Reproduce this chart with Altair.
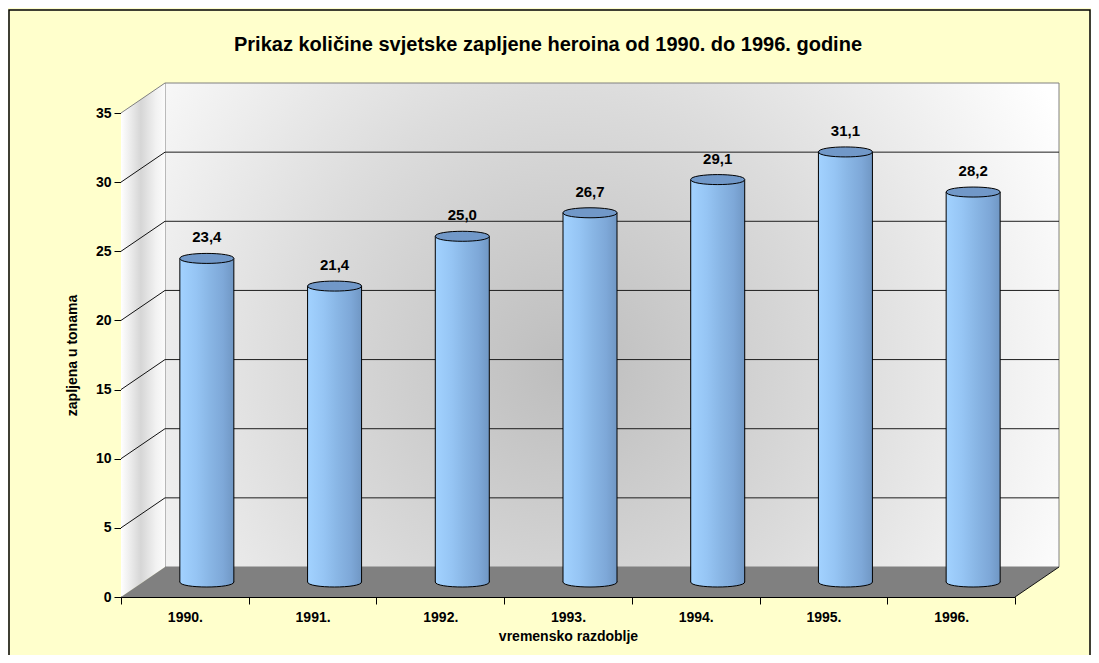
import altair as alt
import pandas as pd

# ---------------- data ----------------
years = ["1990.", "1991.", "1992.", "1993.", "1994.", "1995.", "1996."]
values = [23.4, 21.4, 25.0, 26.7, 29.1, 31.1, 28.2]
labels = ["23,4", "21,4", "25,0", "26,7", "29,1", "31,1", "28,2"]
y_ticks = [0, 5, 10, 15, 20, 25, 30, 35]

title_text = "Prikaz količine svjetske zapljene heroina od 1990. do 1996. godine"
x_title = "vremensko razdoblje"
y_title = "zapljena u tonama"

# ---------------- layout / style ----------------
W, H = 894, 484
YMAX = 35
N = len(years)
DX, DY = 44, 30          # 3D depth in pixels
HX, HY = DX / 2, DY / 2  # mid-depth for cylinders
BAR_W = 54
ux = DX / (W / N)        # depth converted to scale units
uy = DY / (H / YMAX)
FONT = "Liberation Sans"

bars_df = pd.DataFrame({"year": years, "value": values, "label": labels})

yscale = alt.Scale(domain=[0, YMAX], nice=False, zero=True)
yaxis = alt.Axis(
    values=y_ticks, title=y_title, grid=False, domainColor="black", tickColor="black",
    tickSize=7, labelFont=FONT, labelFontSize=14, labelFontWeight="bold", labelColor="black",
    labelPadding=3, titleFont=FONT, titleFontSize=14, titleFontWeight="bold",
    titleColor="black", titlePadding=16,
)
xq_scale = alt.Scale(domain=[0, N], nice=False, zero=False)


def Yq(field):
    return alt.Y(field, type="quantitative", scale=yscale, axis=yaxis)


def Xq(field):
    return alt.X(field, type="quantitative", scale=xq_scale, axis=None)


# ---------------- 3D box decorations ----------------
back_df = pd.DataFrame({"a": [ux], "b": [N + ux], "lo": [uy], "hi": [YMAX + uy]})
back_wall = alt.Chart(back_df).mark_rect(
    fill=alt.RadialGradient(
        gradient="radial", x1=0.45, y1=0.55, r1=0, x2=0.45, y2=0.55, r2=0.62,
        stops=[alt.GradientStop(offset=0, color="#bdbdbd"),
               alt.GradientStop(offset=0.5, color="#dcdcdc"),
               alt.GradientStop(offset=1, color="#ffffff")]),
    stroke="#808080", strokeWidth=1,
).encode(x=Xq("a"), x2="b", y=Yq("lo"), y2="hi")

left_df = pd.DataFrame({"u": [0, ux], "lo": [0, uy], "hi": [YMAX, YMAX + uy]})
left_wall = alt.Chart(left_df).mark_area(
    orient="vertical",
    fill=alt.LinearGradient(
        gradient="linear", x1=0, y1=0, x2=1, y2=0,
        stops=[alt.GradientStop(offset=0, color="#ffffff"),
               alt.GradientStop(offset=0.45, color="#d6d6d6"),
               alt.GradientStop(offset=0.8, color="#f2f2f2"),
               alt.GradientStop(offset=1, color="#fbfbfb")]),
).encode(x=Xq("u"), y=Yq("lo"), y2="hi")

floor_df = pd.DataFrame({"v": [0, uy], "a": [0, ux], "b": [N, N + ux]})
floor = alt.Chart(floor_df).mark_area(orient="horizontal", color="#808080", opacity=1).encode(
    y=Yq("v"), x=Xq("a"), x2="b"
)

grid_df = pd.DataFrame({"a": [ux] * 6, "b": [N + ux] * 6,
                        "yy": [v + uy for v in y_ticks[1:-1]]})
grid = alt.Chart(grid_df).mark_rule(color="#1e1e1e", strokeWidth=1).encode(
    x=Xq("a"), x2="b", y=Yq("yy")
)

diag_df = pd.DataFrame({
    "x1": [0.0] * 6 + [0.0, float(N)],
    "x2": [ux] * 6 + [ux, N + ux],
    "y1": [float(v) for v in y_ticks[1:-1]] + [float(YMAX), 0.0],
    "y2": [v + uy for v in y_ticks[1:-1]] + [YMAX + uy, uy],
    "c": ["k"] * 6 + ["g", "k"],
})
diag = alt.Chart(diag_df).mark_rule(strokeWidth=1).encode(
    x=Xq("x1"), x2="x2", y=Yq("y1"), y2="y2",
    color=alt.Color("c:N", scale=alt.Scale(domain=["k", "g"], range=["#111111", "#808080"]),
                    legend=None),
)

deco = alt.layer(back_wall, left_wall, floor, grid, diag)

# ---------------- cylinders ----------------
xband = alt.X(
    "year:N", sort=years, scale=alt.Scale(paddingInner=0, paddingOuter=0),
    axis=alt.Axis(
        title=x_title, labelAngle=0, tickBand="extent", tickSize=7, tickColor="black",
        domainColor="black", labelFont=FONT, labelFontSize=14, labelFontWeight="bold",
        labelColor="black", labelPadding=6, titleFont=FONT, titleFontSize=14,
        titleFontWeight="bold", titleColor="black", titlePadding=5,
    ),
)

ELLIPSE = "M -1 0 C -1 -0.247 1 -0.247 1 0 C 1 0.247 -1 0.247 -1 0 Z"
body_grad = alt.LinearGradient(
    gradient="linear", x1=0, y1=0, x2=1, y2=0,
    stops=[alt.GradientStop(offset=0, color="#a2d2ff"),
           alt.GradientStop(offset=0.3, color="#96c5f4"),
           alt.GradientStop(offset=0.55, color="#89b6e5"),
           alt.GradientStop(offset=0.8, color="#7ea8d8"),
           alt.GradientStop(offset=1, color="#7097c4")])

base = alt.Chart(bars_df)

bottom_ell = base.mark_point(
    shape=ELLIPSE, size=BAR_W ** 2, filled=True, fill=body_grad, stroke="black",
    strokeWidth=1, opacity=1, xOffset=HX, yOffset=-HY,
).encode(x=xband, y=alt.datum(0, type="quantitative", scale=yscale, axis=yaxis))

body = base.mark_bar(
    width=BAR_W, fill=body_grad, xOffset=HX, yOffset=-HY, y2Offset=-HY,
).encode(x=xband, y=Yq("value"), y2=alt.datum(0))

left_edge = base.mark_rule(color="black", strokeWidth=1, xOffset=HX - BAR_W / 2,
                           yOffset=-HY, y2Offset=-HY).encode(
    x=xband, y=Yq("value"), y2=alt.datum(0))
right_edge = base.mark_rule(color="black", strokeWidth=1, xOffset=HX + BAR_W / 2,
                            yOffset=-HY, y2Offset=-HY).encode(
    x=xband, y=Yq("value"), y2=alt.datum(0))

top_ell = base.mark_point(
    shape=ELLIPSE, size=BAR_W ** 2, filled=True, fill="#7198c8", stroke="black",
    strokeWidth=1, opacity=1, xOffset=HX, yOffset=-HY,
).encode(x=xband, y=Yq("value"))

value_text = base.mark_text(
    font=FONT, fontSize=15, fontWeight="bold", color="black",
    xOffset=HX, yOffset=-HY - 21, baseline="middle",
).encode(x=xband, y=Yq("value"), text="label:N")

bars = alt.layer(bottom_ell, body, left_edge, right_edge, top_ell, value_text)

# ---------------- frame ----------------
frame = alt.Chart(pd.DataFrame({"f": [0]})).mark_rect(
    fill=None, stroke="black", strokeWidth=1.5,
).encode(x=alt.value(-112), x2=alt.value(969), y=alt.value(-103), y2=alt.value(600))

chart = alt.layer(frame, deco, bars).resolve_scale(x="independent").properties(
    width=W, height=H,
    autosize=alt.AutoSizeParams(type="none"),
    padding={"left": 113, "top": 105, "right": 76, "bottom": 58},
    background="#FFFFCC",
    title=alt.TitleParams(
        text=title_text, font=FONT, fontSize=20, fontWeight="bold", color="black",
        anchor="middle", dx=-20, offset=-46,
    ),
).configure_view(stroke=None)

chart.save("out.html", embed_options={"renderer": "svg", "actions": False})
